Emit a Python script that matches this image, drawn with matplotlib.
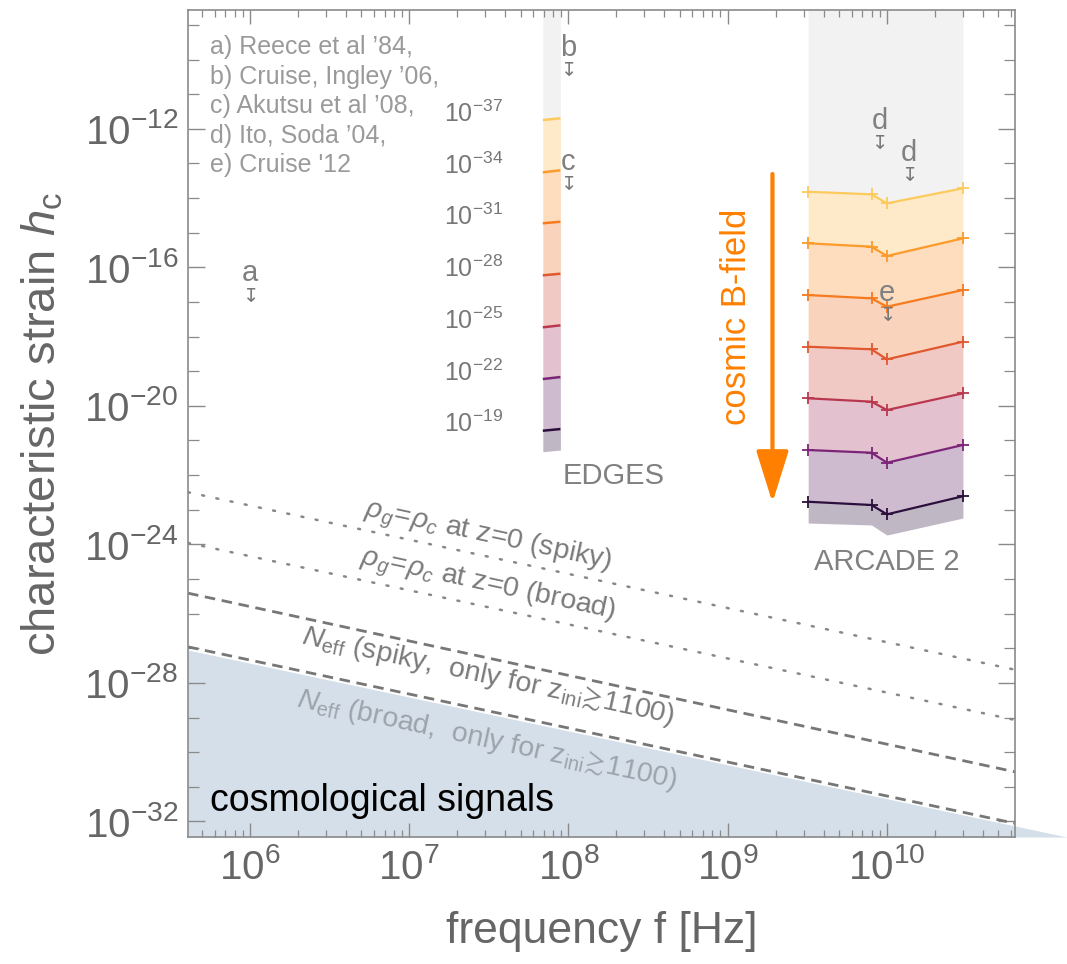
import numpy as np
import matplotlib
matplotlib.use('Agg')
import matplotlib.pyplot as plt
from matplotlib.ticker import FixedLocator, FuncFormatter, NullFormatter

plt.rcParams['font.family'] = ['Liberation Sans', 'DejaVu Sans']
plt.rcParams['mathtext.fontset'] = 'custom'
plt.rcParams['mathtext.rm'] = 'Liberation Sans'
plt.rcParams['mathtext.it'] = 'Liberation Sans:italic'
plt.rcParams['mathtext.bf'] = 'Liberation Sans:bold'
plt.rcParams['mathtext.sf'] = 'Liberation Sans'
plt.rcParams['mathtext.fallback'] = 'stixsans'

W, H = 1067, 964

# axes range and ticks
f_lim = [4.08e5, 6.37e10]
h_lim = [3.55e-33, 2.69e-9]
x_tick_exp = [6, 7, 8, 9, 10]
y_tick_exp = [-32, -28, -24, -20, -16, -12]

# cosmological bounds, values at the left / right edge of the plot
f_bound = [4.08e5, 6.37e10]
rho_spiky = [3.2e-23, 2.4e-28]
rho_broad = [1.1e-24, 8.5e-30]
neff_spiky = [3.9e-26, 2.7e-31]
neff_broad = [1.1e-27, 8.8e-33]

# cosmological signals region (top edge)
f_cosmo = [4.08e5, 1.35e11]
h_cosmo = [8.9e-28, 3.55e-33]

# EDGES band
edges_f = [6.9e7, 8.9e7]
edges_h = [
    [1.79e-12, 2.01e-12],
    [5.53e-14, 6.32e-14],
    [1.87e-15, 2.07e-15],
    [5.87e-17, 6.53e-17],
    [1.85e-18, 2.11e-18],
    [5.94e-20, 6.79e-20],
    [1.91e-21, 2.14e-21],
]
edges_floor = [4.73e-22, 5.30e-22]
edges_exp = [-37, -34, -31, -28, -25, -22, -19]

# ARCADE 2
arcade_f = [3.2e9, 8.0e9, 1.0e10, 3.0e10]
arcade_h = [
    [1.52e-14, 1.28e-14, 7.05e-15, 1.91e-14],
    [4.93e-16, 3.94e-16, 2.12e-16, 6.87e-16],
    [1.58e-17, 1.27e-17, 7.28e-18, 2.21e-17],
    [5.09e-19, 4.29e-19, 2.20e-19, 7.11e-19],
    [1.65e-20, 1.32e-20, 7.57e-21, 2.30e-20],
    [5.30e-22, 4.43e-22, 2.28e-22, 7.40e-22],
    [1.70e-23, 1.37e-23, 7.36e-24, 2.45e-23],
]
arcade_floor = [4.13e-24, 3.63e-24, 1.86e-24, 5.75e-24]

# experimental upper limits
limit_labels = ['a', 'b', 'c', 'd', 'd', 'e']
limit_f = [1.0e6, 1.0e8, 1.0e8, 9.0e9, 1.37e10, 1.0e10]
limit_h = [1.55e-17, 5.0e-11, 2.6e-14, 3.9e-13, 4.6e-14, 4.2e-18]

refs = ["a) Reece et al \u201984,", "b) Cruise, Ingley \u201906,",
        "c) Akutsu et al \u201908,", "d) Ito, Soda \u201904,", "e) Cruise '12"]

line_colors = ['#fdca5e', '#fc9a2a', '#f67a1e', '#e0582e', '#b9384f', '#7c2477', '#2c0f3c']


def pale(c1, c2=None, a=0.3):
    rgb = np.array(matplotlib.colors.to_rgb(c1))
    if c2 is not None:
        rgb = 0.6 * rgb + 0.4 * np.array(matplotlib.colors.to_rgb(c2))
    return tuple(1 - a * (1 - rgb))


def fxy(px, py):
    return px / W, 1 - py / H


def draw_band(f, lines, floor):
    ax.fill_between(f, lines[0], h_lim[1], color='#f2f2f2', lw=0, zorder=0.5)
    for i in range(len(lines) - 1):
        ax.fill_between(f, lines[i], lines[i + 1], lw=0, zorder=0.5,
                        color=pale(line_colors[i], line_colors[i + 1]))
    ax.fill_between(f, lines[-1], floor, color=pale(line_colors[-1]), lw=0, zorder=0.5)


fig = plt.figure(figsize=(W / 100, H / 100), dpi=100)
ax = fig.add_axes([188 / W, 1 - 837 / H, 827 / W, 827 / H])
ax.set_xscale('log')
ax.set_yscale('log')
ax.set_xlim(f_lim)
ax.set_ylim(h_lim)

# ticks
ax.xaxis.set_major_locator(FixedLocator([10.0 ** e for e in x_tick_exp]))
ax.xaxis.set_minor_locator(FixedLocator([m * 10.0 ** e for e in range(5, 11) for m in range(2, 10)]))
ax.yaxis.set_major_locator(FixedLocator([10.0 ** e for e in y_tick_exp]))
ax.yaxis.set_minor_locator(FixedLocator([10.0 ** e for e in range(-34, -7)]))
fmt = FuncFormatter(lambda v, p: '$10^{%d}$' % int(round(np.log10(v))))
ax.xaxis.set_major_formatter(fmt)
ax.yaxis.set_major_formatter(fmt)
ax.xaxis.set_minor_formatter(NullFormatter())
ax.yaxis.set_minor_formatter(NullFormatter())
ax.tick_params(which='both', direction='in', top=True, right=True,
               color='#8a8a8a', labelcolor='#666666')
ax.tick_params(axis='x', which='major', length=10, width=1, labelsize=29, pad=8)
ax.tick_params(axis='x', which='minor', length=5, width=0.9)
ax.tick_params(axis='y', which='major', length=12, width=1, labelsize=29, pad=7)
ax.tick_params(axis='y', which='minor', length=8, width=0.9)
for s in ax.spines.values():
    s.set_color('#8a8a8a')
    s.set_linewidth(1.2)

ax.set_xlabel('frequency f [Hz]', fontsize=32, color='#666666')
ax.xaxis.set_label_coords(0.5, -0.090)
ax.set_ylabel('characteristic strain $h_\\mathrm{c}$', fontsize=34, color='#666666')
ax.yaxis.set_label_coords(-0.148, 0.5)

# cosmological signals region
ax.fill_between(f_cosmo, h_cosmo, h_lim[0], color='#d5dfe9', lw=0, clip_on=False, zorder=0.4)

# bound lines
ax.plot(f_bound, rho_spiky, ls=(0, (0.8, 5)), lw=1.8, color='#888888', dash_capstyle='round')
ax.plot(f_bound, rho_broad, ls=(0, (0.8, 5)), lw=1.8, color='#888888', dash_capstyle='round')
ax.plot(f_bound, neff_spiky, ls=(0, (3.8, 2.4)), lw=2.0, color='#777777')
ax.plot(f_bound, neff_broad, ls=(0, (3.8, 2.4)), lw=2.0, color='#777777')

p1, p2 = ax.transData.transform([(f_bound[0], neff_spiky[0]), (f_bound[1], neff_spiky[1])])
ang = np.degrees(np.arctan2(p2[1] - p1[1], p2[0] - p1[0]))
line_texts = [
    (488, 537, '$\\rho_g\\!=\\!\\rho_c$ at z=0 (spiky)', '#7a7a7a'),
    (488, 586, '$\\rho_g\\!=\\!\\rho_c$ at z=0 (broad)', '#7a7a7a'),
    (488, 677, '$N_\\mathrm{eff}$ (spiky,  only for $\\mathrm{z_{ini}}\\!\\gtrsim\\!$1100)', '#7a7a7a'),
    (487, 740, '$N_\\mathrm{eff}$ (broad,  only for $\\mathrm{z_{ini}}\\!\\gtrsim\\!$1100)', '#9ca3ab'),
]
for px, py, s, c in line_texts:
    fig.text(*fxy(px, py), s, rotation=ang, rotation_mode='anchor', ha='center', va='center',
             fontsize=20.5, color=c)

# EDGES
draw_band(edges_f, edges_h, edges_floor)
for i, hh in enumerate(edges_h):
    ax.plot(edges_f, hh, color=line_colors[i], lw=1.8, solid_capstyle='butt')
    ax.annotate('$10^{%d}$' % edges_exp[i], xy=(edges_f[0], hh[0]), xytext=(-50, 4.7),
                textcoords='offset points', ha='center', va='center', fontsize=18, color='#777777')

# ARCADE 2
draw_band(arcade_f, arcade_h, arcade_floor)
for i, hh in enumerate(arcade_h):
    ax.plot(arcade_f, hh, color=line_colors[i], lw=1.6, marker='+', ms=9, mew=1.3)

# upper limits
for lab, f, h in zip(limit_labels, limit_f, limit_h):
    ax.text(f, h, '\u21a7', ha='center', va='center', fontsize=14, color='#777777',
            family='DejaVu Sans', zorder=5)
    ax.annotate(lab, xy=(f, h), xytext=(0, 10), textcoords='offset points',
                ha='center', va='baseline', fontsize=21, color='#808080', zorder=5)

# cosmic B-field arrow
ax.annotate('', xy=(1.91e9, 1.6e-23), xytext=(1.91e9, 4.94e-14),
            arrowprops=dict(arrowstyle='-|>,head_length=3.2,head_width=1.0', mutation_scale=10,
                            lw=3, color='#ff8000', shrinkA=0, shrinkB=0))
ax.text(1.14e9, 3.67e-18, 'cosmic B-field', rotation=90, ha='center', va='center',
        fontsize=25, color='#ff8000')

# labels
fig.text(*fxy(563, 476), 'EDGES', ha='left', va='center', fontsize=21, color='#808080')
fig.text(*fxy(887, 562), 'ARCADE 2', ha='center', va='center', fontsize=21, color='#808080')
fig.text(*fxy(210, 801), 'cosmological signals', ha='left', va='center', fontsize=27, color='black')
for k, r in enumerate(refs):
    fig.text(*fxy(210, 47 + 29.6 * k), r, ha='left', va='center', fontsize=18, color='#9a9a9a')

fig.savefig('out.png', dpi=100)
